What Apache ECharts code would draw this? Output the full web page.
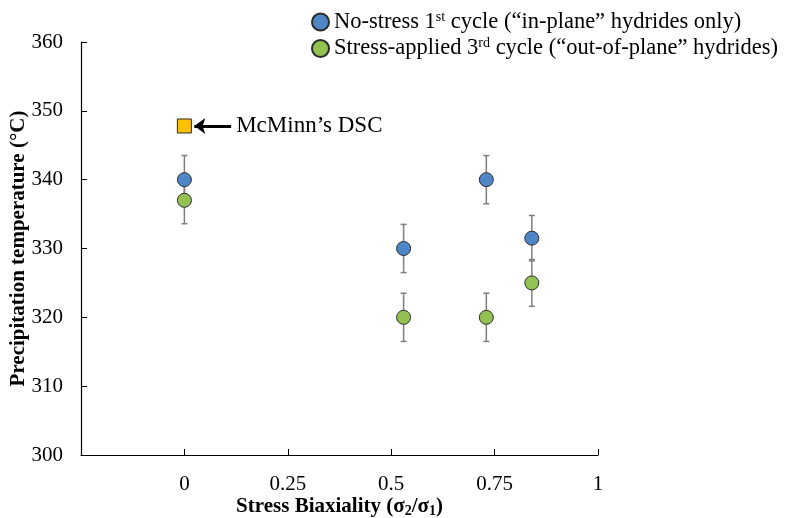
<!DOCTYPE html>
<html><head><meta charset="utf-8">
<script src="https://cdn.jsdelivr.net/npm/echarts@6/dist/echarts.min.js"></script>
<style>html,body{margin:0;padding:0;background:#fff}#c{width:796px;height:518px}</style>
</head><body><div id="c"></div>
<script>
// Data
const blueX = [0, 0.53, 0.73, 0.84];
const blueY = [340, 330, 340, 331.5];
const blueErr = [3.5, 3.5, 3.5, 3.3];
const greenX = [0, 0.53, 0.73, 0.84];
const greenY = [337, 320, 320, 325];
const greenErr = [3.4, 3.5, 3.5, 3.4];
const mcminnX = [0];
const mcminnY = [347.8];
const xTicks = [-0.25, 0, 0.25, 0.5, 0.75, 1];
const yTicks = [300, 310, 320, 330, 340, 350, 360];
const blueName = 'No-stress 1st cycle';
const greenName = 'Stress-applied 3rd cycle';
const mcminnLabel = 'McMinn’s DSC';

const FONT = '"Liberation Serif", "Times New Roman", serif';
const chart = echarts.init(document.getElementById('c'));

function errData(xs, ys, es) { return xs.map((x, i) => [x, ys[i] - es[i], ys[i] + es[i]]); }
function errRender(params, api) {
  const x = api.value(0), lo = api.value(1), hi = api.value(2);
  const a = api.coord([x, hi]), b = api.coord([x, lo]);
  const st = { stroke: '#7f7f7f', lineWidth: 1.5 };
  const w = 3;
  return { type: 'group', children: [
    { type: 'line', shape: { x1: a[0], y1: a[1], x2: b[0], y2: b[1] }, style: st },
    { type: 'line', shape: { x1: a[0] - w, y1: a[1], x2: a[0] + w, y2: a[1] }, style: st },
    { type: 'line', shape: { x1: b[0] - w, y1: b[1], x2: b[0] + w, y2: b[1] }, style: st }
  ]};
}

const legendRich = { sup: { fontFamily: FONT, fontSize: 14, verticalAlign: 'top', padding: [0, 0, 10, 0], color: '#000' } };

chart.setOption({
  animation: false,
  grid: { left: 81, right: 198, top: 42, bottom: 63, outerBoundsMode: 'none', containLabel: false },
  legend: {
    orient: 'vertical', left: 306, top: 5, itemGap: 3, itemWidth: 17, itemHeight: 17, itemGap: 3,
    data: [blueName, greenName],
    textStyle: { fontFamily: FONT, fontSize: 22.5, color: '#000', rich: legendRich },
    formatter: function (n) {
      if (n === blueName) return 'No-stress 1{sup|st} cycle (“in-plane” hydrides only)';
      return 'Stress-applied 3{sup|rd} cycle (“out-of-plane” hydrides)';
    }
  },
  xAxis: {
    type: 'value', min: xTicks[0], max: xTicks[xTicks.length - 1], interval: 0.25,
    splitLine: { show: false },
    axisLine: { onZero: false, lineStyle: { color: '#000', width: 1.2 } },
    axisTick: { inside: true, length: 6, lineStyle: { color: '#000' } },
    axisLabel: { fontFamily: FONT, fontSize: 21, color: '#000', margin: 19,
      formatter: v => (v < 0 ? '' : String(v)) },
    name: 'Stress Biaxiality (σ{sub|2}/σ{sub|1})',
    nameLocation: 'middle', nameGap: 40, nameMoveOverlap: false,
    nameTextStyle: { fontFamily: FONT, fontSize: 21, fontWeight: 'bold', color: '#000',
      rich: { sub: { fontFamily: FONT, fontSize: 14, fontWeight: 'bold', verticalAlign: 'bottom', padding: [9, 0, 0, 0], color: '#000' } } }
  },
  yAxis: {
    type: 'value', min: yTicks[0], max: yTicks[yTicks.length - 1], interval: 10,
    splitLine: { show: false },
    axisLine: { onZero: false, lineStyle: { color: '#000', width: 1.2 } },
    axisTick: { inside: true, length: 6, lineStyle: { color: '#000' } },
    axisLabel: { fontFamily: FONT, fontSize: 21, color: '#000', margin: 18 },
    name: 'Precipitation temperature (°C)', nameLocation: 'middle', nameGap: 52, nameRotate: 90, nameMoveOverlap: false,
    nameTextStyle: { fontFamily: FONT, fontSize: 21, fontWeight: 'bold', color: '#000' }
  },
  series: [
    { type: 'custom', name: 'errB', renderItem: errRender, data: errData(blueX, blueY, blueErr), z: 1, silent: true },
    { type: 'custom', name: 'errG', renderItem: errRender, data: errData(greenX, greenY, greenErr), z: 1, silent: true },
    { type: 'scatter', name: blueName, symbol: 'circle', symbolSize: 14, z: 3,
      itemStyle: { color: '#4e86c8', borderColor: '#2b2b2b', borderWidth: 1, opacity: 1 },
      data: blueX.map((x, i) => [x, blueY[i]]) },
    { type: 'scatter', name: greenName, symbol: 'circle', symbolSize: 14, z: 3,
      itemStyle: { color: '#93c152', borderColor: '#2b2b2b', borderWidth: 1, opacity: 1 },
      data: greenX.map((x, i) => [x, greenY[i]]) },
    { type: 'scatter', name: 'McMinn', symbol: 'rect', symbolSize: 14, z: 3,
      itemStyle: { color: '#ffc000', borderColor: '#2b2b2b', borderWidth: 1, opacity: 1 },
      data: mcminnX.map((x, i) => [x, mcminnY[i]]),
      markLine: {
        silent: true, symbol: ['none', 'arrow'], symbolSize: [12, 11],
        lineStyle: { color: '#000', width: 3, type: 'solid' },
        label: { show: true, position: 'start', formatter: mcminnLabel, fontFamily: FONT, fontSize: 23, color: '#000', distance: 5 },
        data: [[{ coord: [0.113, mcminnY[0]] }, { coord: [0.024, mcminnY[0]] }]]
      } }
  ]
});
</script></body></html>
